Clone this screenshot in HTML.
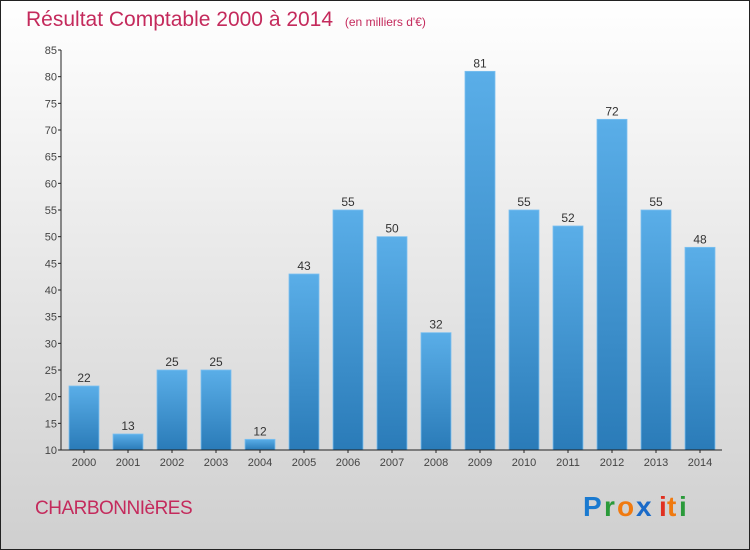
<!DOCTYPE html>
<html><head><meta charset="utf-8"><style>
html,body{margin:0;padding:0}
body{width:750px;height:550px;overflow:hidden;font-family:"Liberation Sans",sans-serif}
svg{display:block}
</style></head><body>
<svg id="chart" width="750" height="550" viewBox="0 0 750 550">
<defs>
<linearGradient id="bg" x1="0" y1="0" x2="0" y2="1"><stop offset="0" stop-color="#ffffff"/><stop offset="1" stop-color="#cfcfcf"/></linearGradient>
<linearGradient id="bar" x1="0" y1="0" x2="0" y2="1"><stop offset="0" stop-color="#5aaee8"/><stop offset="1" stop-color="#2a7bb8"/></linearGradient>
</defs>
<rect x="0.5" y="0.5" width="749" height="549" fill="url(#bg)" stroke="#222"/>
<text x="26" y="26" font-size="21" fill="#c42a5c">Résultat Comptable 2000 à 2014 <tspan font-size="12" dx="6">(en milliers d'€)</tspan></text>
<g id="yaxis"></g>
<g id="bars"></g>
<g id="xaxis"></g>
<text x="35" y="514" font-size="19" fill="#c42a5c" letter-spacing="-0.5">CHARBONNIèRES</text>
<g font-size="28" font-weight="bold">
<text x="583" y="516" fill="#1a7ad0">P</text><text x="604" y="516" fill="#2a9a3a">r</text><text x="617" y="516" fill="#f07a10">o</text><text x="636" y="516" fill="#1a6ac8">x</text><text x="659" y="516" fill="#e03020">i</text><text x="667" y="516" fill="#f07a10">t</text><text x="679" y="516" fill="#2a9a3a">i</text>
</g>
</svg>
<script>
const categories=["2000","2001","2002","2003","2004","2005","2006","2007","2008","2009","2010","2011","2012","2013","2014"];
const values=[22,13,25,25,12,43,55,50,32,81,55,52,72,55,48];
const yTicks=[10,15,20,25,30,35,40,45,50,55,60,65,70,75,80,85];
const NS="http://www.w3.org/2000/svg";
const x0=62,x1=722,yMin=10,yMax=85,py0=450,py1=50;
const bw=(x1-x0)/categories.length;
function y(v){return py0-(v-yMin)/(yMax-yMin)*(py0-py1);}
function xc(i){return x0+bw*(i+0.5);}
function mk(t,a,p){const e=document.createElementNS(NS,t);for(const k in a)e.setAttribute(k,a[k]);p.appendChild(e);return e;}
const ya=document.getElementById('yaxis'),ba=document.getElementById('bars'),xa=document.getElementById('xaxis');
mk('line',{x1:x0-1,y1:py1,x2:x0-1,y2:py0,stroke:'#222'},ya);
yTicks.forEach(t=>{
 const l=mk('line',{x1:x0-4,x2:x0-1,y1:y(t),y2:y(t),stroke:'#222'},ya);
 
 
 const tx=mk('text',{x:x0-5,y:y(t)+4,'font-size':11,fill:'#444','text-anchor':'end'},ya);
 tx.textContent=t;
 
 
});
mk('line',{x1:x0-1,y1:py0,x2:x1,y2:py0,stroke:'#222'},xa);
categories.forEach((c,i)=>{
 const r=mk('rect',{x:xc(i)-15,y:y(values[i]),width:30,height:py0-y(values[i]),fill:'url(#bar)',stroke:'#7cc0f0','stroke-width':0.8},ba);
 
 
 const v=mk('text',{x:xc(i),y:y(values[i])-4,'font-size':12,fill:'#333','text-anchor':'middle'},ba);
 v.textContent=values[i];
 
 
 const tl=mk('line',{x1:xc(i),x2:xc(i),y1:py0,y2:py0+3,stroke:'#222'},xa);
 
 
 const t=mk('text',{x:xc(i),y:py0+16,'font-size':11,fill:'#444','text-anchor':'middle'},xa);
 t.textContent=c;
 
 
});
</script>
</body></html>
